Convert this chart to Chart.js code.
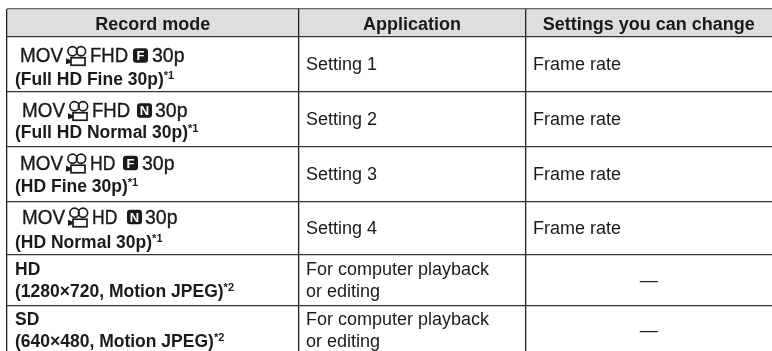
<!DOCTYPE html>
<html>
<head>
<meta charset="utf-8">
<script src="https://cdn.jsdelivr.net/npm/chart.js@4"></script>
<style>
  html, body { margin: 0; padding: 0; background: #fff; overflow: hidden; }
  canvas { display: block; }
</style>
</head>
<body>
<canvas id="table" width="772" height="351"></canvas>
<script>
const headers = ['Record mode', 'Application', 'Settings you can change'];

const mode_sizes = ['FHD', 'FHD', 'HD', 'HD'];
const mode_quality = ['F', 'N', 'F', 'N'];
const mode_rates = ['30p', '30p', '30p', '30p'];
const mode_notes = ['(Full HD Fine 30p)', '(Full HD Normal 30p)', '(HD Fine 30p)', '(HD Normal 30p)'];

const format_names = ['HD', 'SD'];
const format_notes = ['(1280×720, Motion JPEG)', '(640×480, Motion JPEG)'];

const applications = [
    ['Setting 1'],
    ['Setting 2'],
    ['Setting 3'],
    ['Setting 4'],
    ['For computer playback', 'or editing'],
    ['For computer playback', 'or editing']
];
const settings = ['Frame rate', 'Frame rate', 'Frame rate', 'Frame rate', '—', '—'];
const footnotes = ['*1', '*1', '*1', '*1', '*2', '*2'];

// table grid, in page pixels
const col_edges = [7, 298.5, 525.5];
const row_edges = [9, 37, 91.5, 147, 201.5, 255, 305.5, 355];

// baselines of the icon line / note line, relative to the middle of the row
const mode_offsets = [-2, -2, -4.5, -4.5];
const note_offsets = [21, 19, 18, 19.5];
// left edge of each piece of the mode line
const mode_x = [
    { mov: 20, cam: 64, size: 90, box: 133, rate: 152 },
    { mov: 22, cam: 66, size: 92, box: 137, rate: 155 },
    { mov: 20, cam: 64, size: 90, box: 123, rate: 142 },
    { mov: 22, cam: 66, size: 92, box: 127, rate: 145 }
];

const sans = '"Liberation Sans", Arial, sans-serif';
const ink = '#1a1a1a';

function drawCamera(ctx, x, base) {
    ctx.save();
    ctx.strokeStyle = ink;
    ctx.fillStyle = ink;
    ctx.lineWidth = 1.7;
    ctx.beginPath();
    ctx.arc(x + 8.5, base - 11, 4.6, 0, Math.PI * 2);
    ctx.stroke();
    ctx.beginPath();
    ctx.arc(x + 17, base - 11, 4.6, 0, Math.PI * 2);
    ctx.stroke();
    ctx.strokeRect(x + 7, base - 4.5, 14, 7.5);
    ctx.beginPath();
    ctx.moveTo(x + 7, base - 2);
    ctx.lineTo(x + 2, base - 4);
    ctx.lineTo(x + 2, base + 2);
    ctx.lineTo(x + 7, base + 0.5);
    ctx.closePath();
    ctx.fill();
    ctx.restore();
}

function drawBoxLetter(ctx, letter, x, base) {
    ctx.save();
    ctx.fillStyle = ink;
    ctx.beginPath();
    ctx.roundRect(x, base - 14, 15, 14.5, 3);
    ctx.fill();
    ctx.fillStyle = '#fff';
    ctx.font = 'bold 13px ' + sans;
    ctx.textAlign = 'center';
    ctx.fillText(letter, x + 7.5, base - 2);
    ctx.restore();
}

function drawModeText(ctx, text, x, base, width) {
    ctx.font = '19.5px ' + sans;
    ctx.strokeStyle = ink;
    ctx.lineWidth = 0.35;
    ctx.fillText(text, x, base, width);
    ctx.strokeText(text, x, base, width);
}

function drawNote(ctx, note, mark, x, base) {
    ctx.font = 'bold 17.5px ' + sans;
    ctx.fillText(note, x, base);
    const w = ctx.measureText(note).width;
    ctx.font = 'bold 11px ' + sans;
    ctx.fillText(mark, x + w, base - 6);
}

const tablePlugin = {
    id: 'tablePlugin',
    beforeDraw(chart) {
        const { ctx, scales: { x, y }, chartArea } = chart;
        ctx.save();
        ctx.fillStyle = '#dedede';
        ctx.fillRect(x.getPixelForValue(col_edges[0]), y.getPixelForValue(row_edges[0]),
            chartArea.right - x.getPixelForValue(col_edges[0]),
            y.getPixelForValue(row_edges[1]) - y.getPixelForValue(row_edges[0]));
        ctx.restore();
    },
    afterDraw(chart) {
        const { ctx, scales: { x, y }, chartArea } = chart;
        const col_left = col_edges.map(v => x.getPixelForValue(v));
        const row_mid = i => (y.getPixelForValue(row_edges[i]) + y.getPixelForValue(row_edges[i + 1])) / 2;

        ctx.save();
        ctx.fillStyle = ink;
        ctx.textBaseline = 'alphabetic';

        // header row
        ctx.font = 'bold 18px ' + sans;
        ctx.textAlign = 'center';
        headers.forEach((text, i) => {
            const right = i < 2 ? col_left[i + 1] : chartArea.right;
            ctx.fillText(text, (col_left[i] + right) / 2, row_mid(0) + 6.5);
        });
        ctx.textAlign = 'left';

        // the four movie modes
        mode_sizes.forEach((size, i) => {
            const mid = row_mid(i + 1);
            const base = mid + mode_offsets[i];
            const pos = mode_x[i];
            drawModeText(ctx, 'MOV', pos.mov, base, 43);
            drawCamera(ctx, pos.cam, base);
            drawModeText(ctx, size, pos.size, base, size.length * 12.7);
            drawBoxLetter(ctx, mode_quality[i], pos.box, base);
            drawModeText(ctx, mode_rates[i], pos.rate, base);
            drawNote(ctx, mode_notes[i], footnotes[i], col_left[0] + 8, mid + note_offsets[i]);
        });

        // the two motion jpeg formats
        format_names.forEach((name, i) => {
            const mid = row_mid(i + 5);
            ctx.font = 'bold 17.5px ' + sans;
            ctx.fillText(name, col_left[0] + 8, mid - 5);
            drawNote(ctx, format_notes[i], footnotes[i + 4], col_left[0] + 8, mid + 17);
        });

        // application and settings columns
        ctx.font = '18px ' + sans;
        applications.forEach((lines, i) => {
            const mid = row_mid(i + 1);
            const start = lines.length > 1 ? mid - 5 : mid + 6;
            lines.forEach((line, k) => ctx.fillText(line, col_left[1] + 7.5, start + k * 22));
            if (settings[i] === '—') {
                ctx.textAlign = 'center';
                ctx.fillText(settings[i], (col_left[2] + chartArea.right) / 2, mid + 6);
                ctx.textAlign = 'left';
            } else {
                ctx.fillText(settings[i], col_left[2] + 7.5, mid + 6);
            }
        });
        ctx.restore();
    }
};

new Chart(document.getElementById('table'), {
    type: 'scatter',
    data: { datasets: [{ data: [], pointRadius: 0 }] },
    plugins: [tablePlugin],
    options: {
        responsive: false,
        animation: false,
        layout: { padding: { left: 7, top: 9, right: 0, bottom: 0 } },
        plugins: { legend: { display: false }, tooltip: { enabled: false } },
        scales: {
            x: {
                type: 'linear',
                min: 7,
                max: 772,
                afterBuildTicks: axis => { axis.ticks = col_edges.map(v => ({ value: v })); },
                ticks: { display: false },
                border: { display: false },
                grid: { drawTicks: false, color: '#222', lineWidth: 1.3 }
            },
            y: {
                type: 'linear',
                reverse: true,
                min: 9,
                max: 351,
                afterBuildTicks: axis => { axis.ticks = row_edges.slice(0, -1).map(v => ({ value: v })); },
                ticks: { display: false },
                border: { display: false },
                grid: {
                    drawTicks: false,
                    lineWidth: 1.3,
                    color: ctx => (ctx.tick && ctx.tick.value === row_edges[0] ? '#666' : '#333')
                }
            }
        }
    }
});
</script>
</body>
</html>
